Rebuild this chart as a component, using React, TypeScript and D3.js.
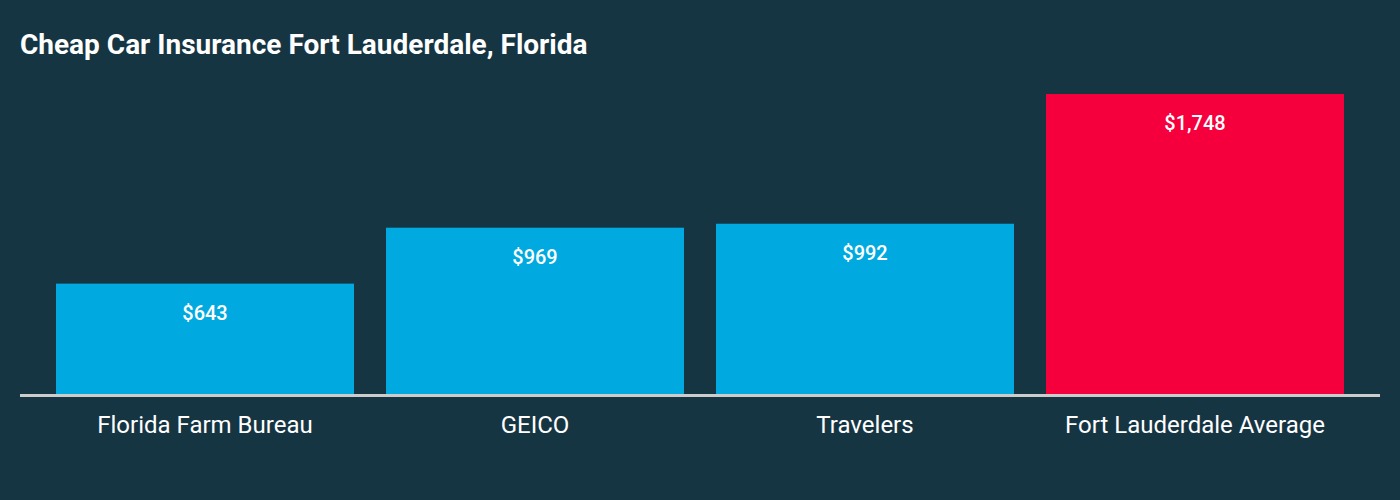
import { useEffect, useRef } from 'react';
import * as d3 from 'd3';

// Annual premiums
const carriers = ['Florida Farm Bureau', 'GEICO', 'Travelers', 'Fort Lauderdale Average'];
const premiums = [643, 969, 992, 1748];
const barColors = ['#00aae0', '#00aae0', '#00aae0', '#f5003d'];
const title = 'Cheap Car Insurance Fort Lauderdale, Florida';

export default function App() {
  const svgRef = useRef<SVGSVGElement>(null);

  useEffect(() => {
    if (!svgRef.current) return;
    document.body.style.margin = '0';

    const width = 1400;
    const height = 500;
    const baseline = 394;

    const svg = d3.select(svgRef.current);
    svg.selectAll('*').remove();
    svg.attr('width', width).attr('height', height);

    svg.append('rect').attr('width', width).attr('height', height).attr('fill', '#163543');

    const x = d3
      .scaleBand<string>()
      .domain(carriers)
      .range([40, 1360])
      .paddingInner(32 / 330)
      .paddingOuter(16 / 330);

    const y = d3.scaleLinear().domain([0, 1748]).range([baseline, 94]);

    const data = carriers.map((c, i) => ({ name: c, value: premiums[i], color: barColors[i] }));

    // Title
    svg
      .append('text')
      .attr('x', 20)
      .attr('y', 54)
      .attr('fill', '#ffffff')
      .attr('font-family', 'Roboto, sans-serif')
      .attr('font-weight', 700)
      .attr('font-size', '28px')
      .text(title);

    // Bars
    svg
      .append('g')
      .selectAll('rect')
      .data(data)
      .enter()
      .append('rect')
      .attr('x', (d) => x(d.name)!)
      .attr('y', (d) => y(d.value))
      .attr('width', x.bandwidth())
      .attr('height', (d) => baseline - y(d.value))
      .attr('fill', (d) => d.color);

    // Value labels inside bars
    svg
      .append('g')
      .selectAll('text')
      .data(data)
      .enter()
      .append('text')
      .attr('x', (d) => x(d.name)! + x.bandwidth() / 2)
      .attr('y', (d) => y(d.value) + 36)
      .attr('text-anchor', 'middle')
      .attr('fill', '#ffffff')
      .attr('font-family', 'Roboto, sans-serif')
      .attr('font-weight', 500)
      .attr('font-size', '20px')
      .text((d) => '$' + d3.format(',')(d.value));

    // Baseline
    svg
      .append('line')
      .attr('x1', 20)
      .attr('x2', 1380)
      .attr('y1', baseline + 1.5)
      .attr('y2', baseline + 1.5)
      .attr('stroke', '#cccccc')
      .attr('stroke-width', 3);

    // Category labels
    svg
      .append('g')
      .selectAll('text')
      .data(data)
      .enter()
      .append('text')
      .attr('x', (d) => x(d.name)! + x.bandwidth() / 2)
      .attr('y', 433)
      .attr('text-anchor', 'middle')
      .attr('fill', '#ffffff')
      .attr('font-family', 'Roboto, sans-serif')
      .attr('font-size', '24px')
      .text((d) => d.name);
  }, []);

  return <svg ref={svgRef} style={{ display: 'block' }} />;
}
